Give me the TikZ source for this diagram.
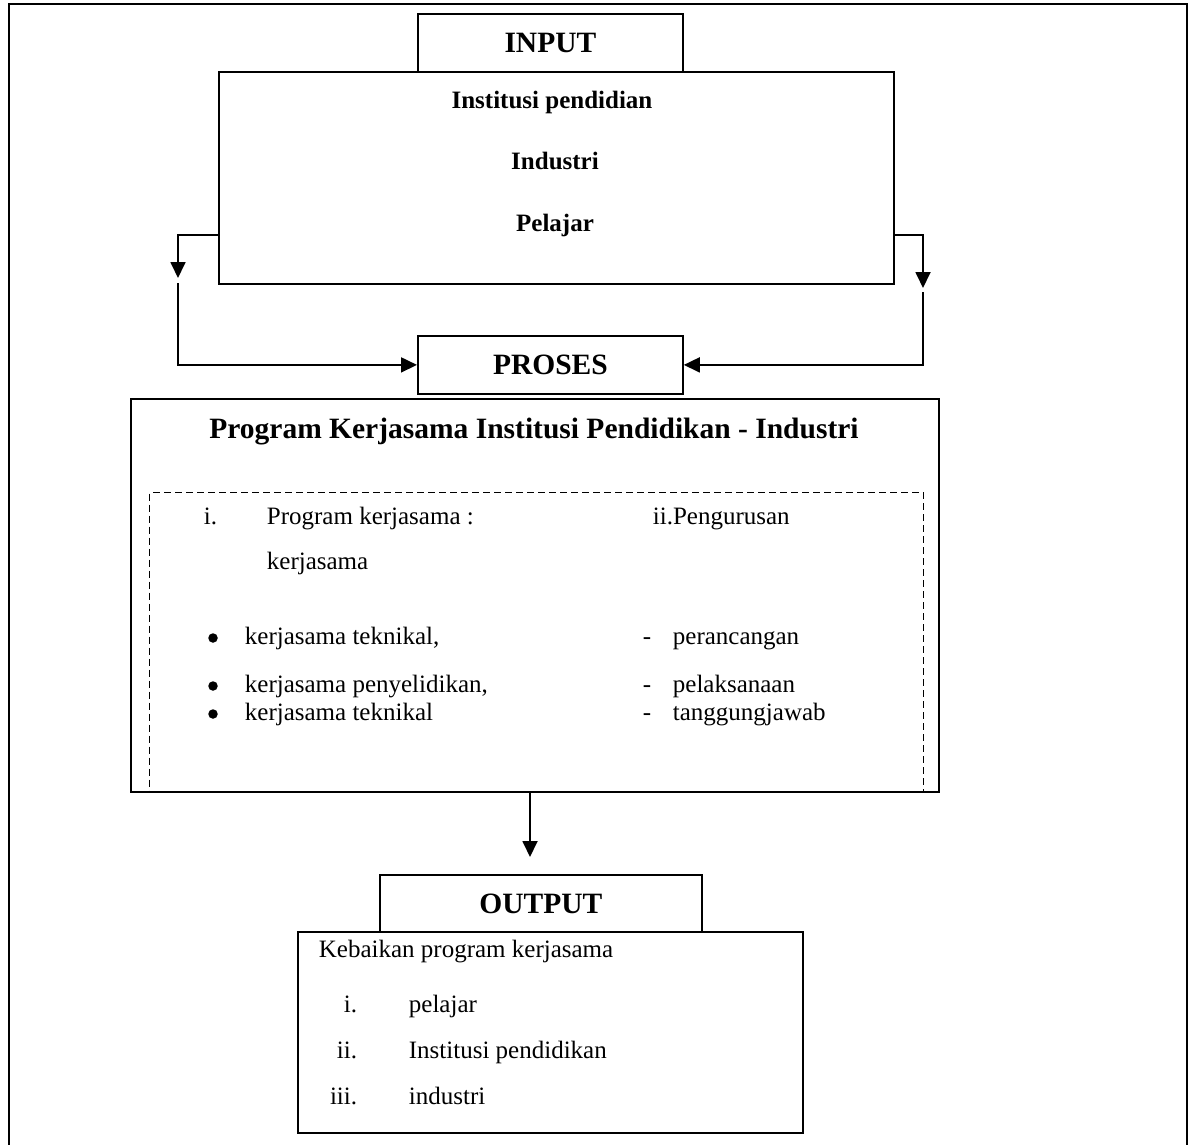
\documentclass[tikz,border=0pt]{standalone}
\usepackage{fontspec}
\setmainfont{Liberation Serif}
\usetikzlibrary{arrows.meta}
\newcommand{\bodyfont}{\fontsize{25}{30}\selectfont}
\newcommand{\headfont}{\fontsize{29.5}{35}\selectfont\bfseries}

\begin{document}
\begin{tikzpicture}[x=1pt,y=-1pt,line width=1.8pt,
	box/.style={draw,anchor=north west,inner sep=0pt},
	txt/.style={anchor=mid west,inner sep=0pt,font=\bodyfont},
	dot/.style={circle,fill,inner sep=0pt,minimum size=9.5pt},
	arr/.style={-{Triangle[width=15pt,length=16pt]}}]
			\useasboundingbox (0,0) rectangle (1188,1145);
			\draw (9,1150) -- (9,4) -- (1187,4) -- (1187,1150);
			\node [box,minimum width=265pt,minimum height=58pt,font=\headfont] (input) at (417,13) {INPUT};
			\node [box,minimum width=675pt,minimum height=212pt] (inbox) at (218,71) {};
			\node [anchor=mid,inner sep=0pt,font=\bodyfont\bfseries] (inst) at (552,106) {Institusi pendidian};
			\node [anchor=mid,inner sep=0pt,font=\bodyfont\bfseries] (ind) at (555,167) {Industri};
			\node [anchor=mid,inner sep=0pt,font=\bodyfont\bfseries] (pel) at (555,229) {Pelajar};
			\node [box,minimum width=265pt,minimum height=58pt,font=\headfont] (proses) at (417,335) {PROSES};
			\coordinate (lA) at (178,235); \coordinate (lB) at (178,278); \coordinate (lC) at (178,283);
			\coordinate (rA) at (923,235); \coordinate (rB) at (923,288); \coordinate (rC) at (923,292);
			\draw [arr] (inbox.west |- lA) -- (lA) -- (lB);
			\draw [arr] (lC) |- (proses.west);
			\draw [arr] (inbox.east |- rA) -- (rA) -- (rB);
			\draw [arr] (rC) |- (proses.east);
			\node [box,minimum width=808pt,minimum height=393pt] (prog) at (130,398) {};
			\node [anchor=mid,inner sep=0pt,font=\headfont] (title) at (534,436) {Program Kerjasama Institusi Pendidikan - Industri};
			\node [box,line width=1.3pt,dash pattern=on 7pt off 4pt,minimum width=774pt,minimum height=299pt] (inner) at (149,492) {};
			\node [txt] (ia) at (203,522) {i.};
			\node [txt] (progk) at (266,522) {Program kerjasama :};
			\node [txt] (kerja) at (266,567) {kerjasama};
			\node [txt] (iia) at (652,522) {ii.Pengurusan};
			\foreach \y/\t [count=\i] in {642/{kerjasama teknikal,},690/{kerjasama penyelidikan,},718/{kerjasama teknikal}} {
				\node [txt] (k\i) at (244,\y) {\t};
				\node [dot] (b\i) at (213,\y-4) {};
			}
			\foreach \y/\t [count=\i] in {642/perancangan,690/pelaksanaan,718/tanggungjawab} {
				\node [txt] (d\i) at (642,\y) {-};
				\node [txt] (p\i) at (672,\y) {\t};
			}
			\node [box,minimum width=322pt,minimum height=57pt,font=\headfont] (output) at (379,874) {OUTPUT};
			\node [box,minimum width=505pt,minimum height=201pt] (outbox) at (297,931) {};
			\draw [arr] (530,791) coordinate (oA) -- (oA |- output.north) [shorten >=17pt];
			\node [txt] (keb) at (318,955) {Kebaikan program kerjasama};
			\foreach \y/\n/\t [count=\i] in {1010/i./pelajar,1056/ii./Institusi pendidikan,1102/iii./industri} {
				\node [anchor=mid east,inner sep=0pt,font=\bodyfont] (n\i) at (358,\y) {\n};
				\node [txt] (o\i) at (408,\y) {\t};
			}
			\end{tikzpicture}
\end{document}
